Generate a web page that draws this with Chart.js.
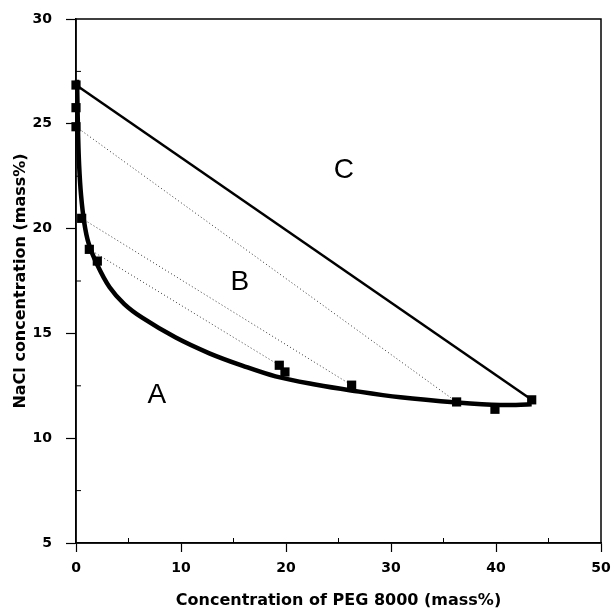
<!DOCTYPE html>
<html>
<head>
<meta charset="utf-8">
<script src="https://cdn.jsdelivr.net/npm/chart.js@4"></script>
<style>
  html, body { margin: 0; padding: 0; background: #fff; }
  #wrap { width: 612px; height: 611px; }
</style>
</head>
<body>
<div id="wrap"><canvas id="phase_diagram"></canvas></div>
<script>
// binodal curve
var curveX = [0.1, 0.14, 0.2, 0.3, 0.48, 0.78, 1.2, 2.0, 3.2, 4.6, 6.3, 9.5, 12.7, 15.9, 19.0, 22.9, 26.2, 30.9, 36.3, 40.4, 43.4];
var curveY = [27.1, 26.0, 24.5, 23.0, 21.6, 20.3, 19.3, 18.3, 17.2, 16.4, 15.75, 14.8, 14.05, 13.45, 12.95, 12.55, 12.28, 11.95, 11.7, 11.58, 11.62];

// measured points
var pointX = [0.0, 0.0, 0.0, 0.54, 1.27, 2.03, 19.36, 19.9, 26.25, 36.25, 39.9, 43.4];
var pointY = [26.85, 25.77, 24.86, 20.49, 19.01, 18.45, 13.48, 13.16, 12.53, 11.73, 11.38, 11.83];

// solid tie line
var tieX = [0.0, 43.4];
var tieY = [26.85, 11.83];

// dotted tie lines
var dotX1 = [0.0, 36.25], dotY1 = [24.86, 11.73];
var dotX2 = [0.54, 26.25], dotY2 = [20.49, 12.53];
var dotX3 = [1.27, 19.36], dotY3 = [19.01, 13.48];

// region labels
var regionText = ["A", "B", "C"];
var regionX = [7.7, 15.6, 25.5];
var regionY = [12.06, 17.45, 22.8];

// minor tick values
var minorX = [5, 15, 25, 35, 45];
var minorY = [7.5, 12.5, 17.5, 22.5, 27.5];

function pts(xs, ys) {
    return xs.map(function (x, i) { return {x: x, y: ys[i]}; });
}

function dotted(xs, ys) {
    return {
        data: pts(xs, ys),
        showLine: true,
        borderColor: "#333",
        borderWidth: 1,
        borderDash: [1, 2.5],
        pointRadius: 0,
        order: 3
    };
}

function noPad(s) {
    s.paddingTop = 0;
    s.paddingBottom = 0;
    s.paddingLeft = 0;
    s.paddingRight = 0;
}

var boxAndLabels = {
    id: "boxAndLabels",
    afterDatasetsDraw: function (chart) {
        var ctx = chart.ctx, a = chart.chartArea;
        var sx = chart.scales.x, sy = chart.scales.y;
        ctx.save();
        ctx.strokeStyle = "#000";
        ctx.lineWidth = 1.5;
        ctx.strokeRect(a.left, a.top, a.right - a.left, a.bottom - a.top);

        // small inward ticks
        ctx.lineWidth = 1;
        ctx.beginPath();
        minorX.forEach(function (v) {
            var px = sx.getPixelForValue(v);
            ctx.moveTo(px, a.bottom);
            ctx.lineTo(px, a.bottom - 5);
        });
        minorY.forEach(function (v) {
            var py = sy.getPixelForValue(v);
            ctx.moveTo(a.left, py);
            ctx.lineTo(a.left + 5, py);
        });
        ctx.stroke();

        ctx.fillStyle = "#000";
        ctx.font = "28px 'Liberation Sans', Arial, sans-serif";
        ctx.textAlign = "center";
        ctx.textBaseline = "middle";
        for (var i = 0; i < regionText.length; i++) {
            ctx.fillText(regionText[i], sx.getPixelForValue(regionX[i]), sy.getPixelForValue(regionY[i]));
        }
        ctx.restore();
    }
};

var tickFont = {family: "'DejaVu Sans', sans-serif", size: 14, weight: "bold"};
var titleFont = {family: "'DejaVu Sans', sans-serif", size: 16, weight: "bold"};

new Chart(document.getElementById("phase_diagram"), {
    type: "scatter",
    data: {
        datasets: [
            {
                data: pts(pointX, pointY),
                pointStyle: "rect",
                pointRadius: 6.5,
                backgroundColor: "#000",
                borderColor: "#000",
                borderWidth: 0,
                clip: false,
                order: 0
            },
            {
                data: pts(curveX, curveY),
                showLine: true,
                borderColor: "#000",
                borderWidth: 4.5,
                tension: 0.35,
                pointRadius: 0,
                clip: false,
                order: 1
            },
            {
                data: pts(tieX, tieY),
                showLine: true,
                borderColor: "#000",
                borderWidth: 2.5,
                pointRadius: 0,
                order: 2
            },
            dotted(dotX1, dotY1),
            dotted(dotX2, dotY2),
            dotted(dotX3, dotY3)
        ]
    },
    options: {
        responsive: true,
        maintainAspectRatio: false,
        animation: false,
        layout: {padding: {top: 19, right: 11, left: 0, bottom: 0}},
        plugins: {legend: {display: false}, tooltip: {enabled: false}},
        scales: {
            x: {
                type: "linear",
                min: 0, max: 50,
                ticks: {stepSize: 10, color: "#000", font: tickFont, padding: 8, maxRotation: 0},
                grid: {drawOnChartArea: false, tickLength: 9, tickColor: "#000", tickWidth: 1.2},
                border: {color: "#000", width: 1.5},
                title: {display: true, text: "Concentration of PEG 8000 (mass%)", color: "#000", font: titleFont, padding: {top: 0, bottom: 1}},
                afterFit: function (s) { s.height = 68; noPad(s); }
            },
            y: {
                type: "linear",
                min: 5, max: 30,
                ticks: {stepSize: 5, color: "#000", font: tickFont, padding: 14},
                grid: {drawOnChartArea: false, tickLength: 10, tickColor: "#000", tickWidth: 1.2},
                border: {color: "#000", width: 1.5},
                title: {display: true, text: "NaCl concentration (mass%)", color: "#000", font: titleFont, padding: {top: 11, bottom: 0}},
                afterFit: function (s) { s.width = 76; noPad(s); }
            }
        }
    },
    plugins: [boxAndLabels]
});
</script>
</body>
</html>
